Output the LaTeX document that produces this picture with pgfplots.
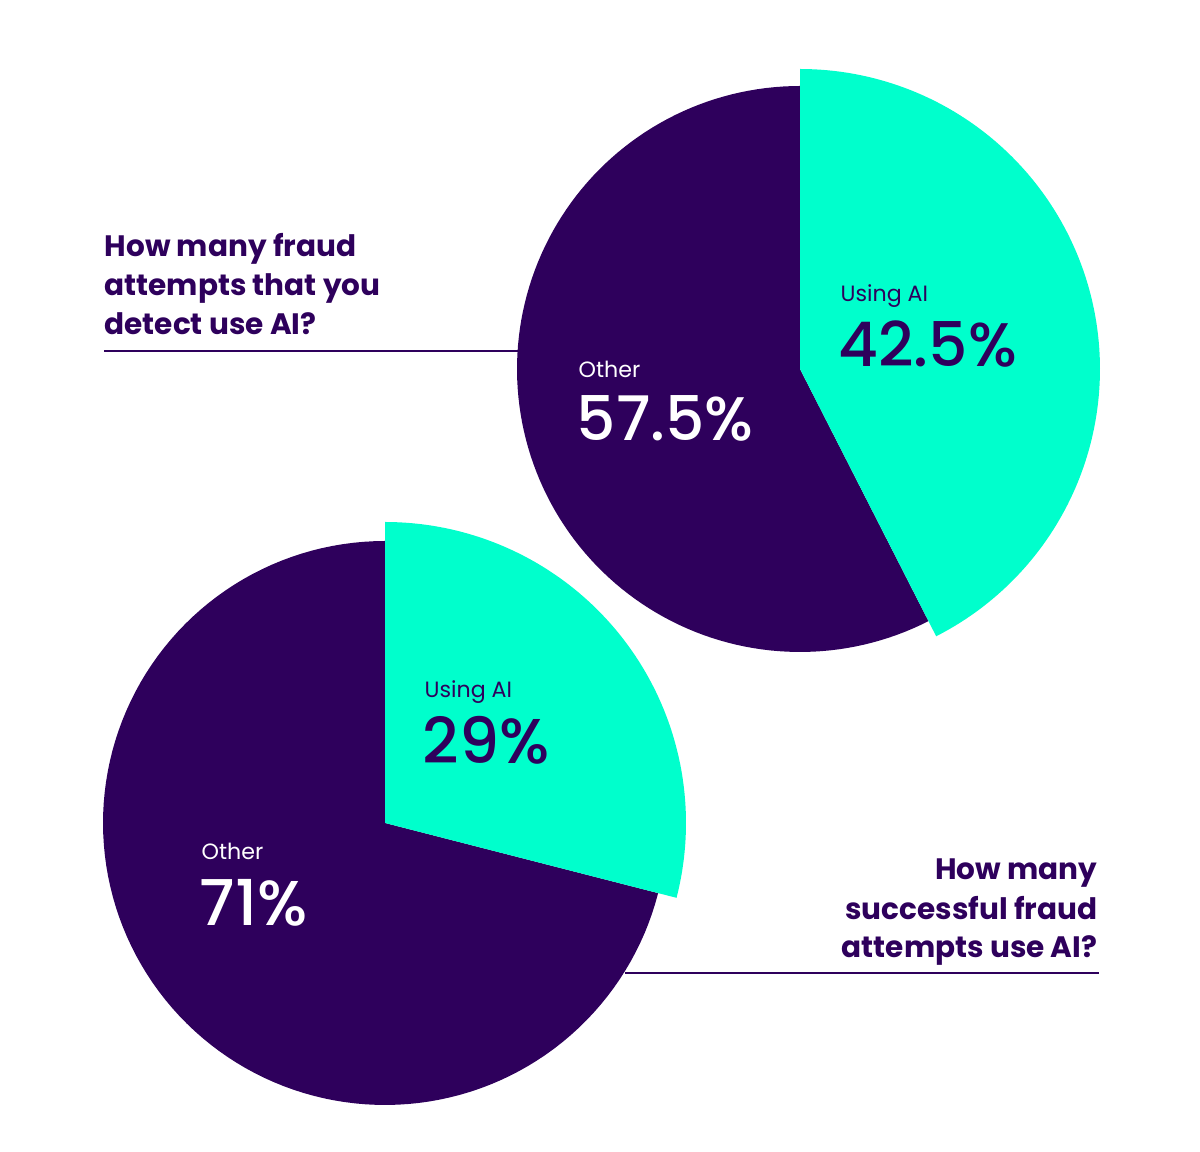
\documentclass[border=0pt]{standalone}
\usepackage{pgfplots}
\pgfplotsset{compat=1.18}
\usepackage{fontspec}
\setmainfont{Poppins}
\newfontfamily\popmed{Poppins}[UprightFont=* Medium]
\newfontfamily\popbold{Poppins}[UprightFont=* Bold]
\definecolor{dpurple}{HTML}{2E005C}
\definecolor{mint}{HTML}{00FFCC}
% data (percent using AI)
\def\topAI{42.5}
\def\botAI{29}
\begin{document}
\begin{tikzpicture}
\begin{axis}[
  width=12cm, height=11.52cm, scale only axis,
  xmin=0, xmax=1200, ymin=0, ymax=1152,
  hide axis, clip=false,
]
\path (axis cs:0,0) rectangle (axis cs:1200,1152);
% top pie (center 800,783)
\addplot[draw=none, fill=dpurple, domain={90}:{90+360*(100-\topAI)/100}, samples=120, variable=\t]
  ({800+283*cos(\t)},{783+283*sin(\t)}) -- (axis cs:800,783) -- cycle;
\addplot[draw=none, fill=mint, domain={90-360*\topAI/100}:{90}, samples=120, variable=\t]
  ({800+300*cos(\t)},{783+300*sin(\t)}) -- (axis cs:800,783) -- cycle;
% bottom pie (center 385,329)
\addplot[draw=none, fill=dpurple, domain={90}:{90+360*(100-\botAI)/100}, samples=120, variable=\t]
  ({385+282*cos(\t)},{329+282*sin(\t)}) -- (axis cs:385,329) -- cycle;
\addplot[draw=none, fill=mint, domain={90-360*\botAI/100}:{90}, samples=120, variable=\t]
  ({385+301*cos(\t)},{329+301*sin(\t)}) -- (axis cs:385,329) -- cycle;
% connector lines
\addplot[dpurple, line width=0.45pt] coordinates {(104,801) (520,801)};
\addplot[dpurple, line width=0.45pt] coordinates {(625,179) (1099,179)};
% headlines
\node[anchor=base west, inner sep=0pt, text=dpurple, font=\fontsize{8.4}{10}\popbold] at (axis cs:104,895) {How many fraud};
\node[anchor=base west, inner sep=0pt, text=dpurple, font=\fontsize{8.4}{10}\popbold] at (axis cs:104,856) {attempts that you};
\node[anchor=base west, inner sep=0pt, text=dpurple, font=\fontsize{8.4}{10}\popbold] at (axis cs:104,817) {detect use AI?};
\node[anchor=base east, inner sep=0pt, text=dpurple, font=\fontsize{8.4}{10}\popbold] at (axis cs:1098,272) {How many};
\node[anchor=base east, inner sep=0pt, text=dpurple, font=\fontsize{8.4}{10}\popbold] at (axis cs:1098,232) {successful fraud};
\node[anchor=base east, inner sep=0pt, text=dpurple, font=\fontsize{8.4}{10}\popbold] at (axis cs:1098,194) {attempts use AI?};
% labels
\node[anchor=base west, inner sep=0pt, text=white, font=\fontsize{6.3}{8}\selectfont] at (axis cs:578,774) {Other};
\node[anchor=base west, inner sep=0pt, text=white, font=\fontsize{17.5}{20}\popmed] at (axis cs:576,711) {57.5\%};
\node[anchor=base west, inner sep=0pt, text=dpurple, font=\fontsize{6.3}{8}\selectfont] at (axis cs:840,850) {Using AI};
\node[anchor=base west, inner sep=0pt, text=dpurple, font=\fontsize{17.5}{20}\popmed] at (axis cs:838,785) {42.5\%};
\node[anchor=base west, inner sep=0pt, text=dpurple, font=\fontsize{6.3}{8}\selectfont] at (axis cs:424,454) {Using AI};
\node[anchor=base west, inner sep=0pt, text=dpurple, font=\fontsize{18}{20}\popmed] at (axis cs:422,388) {29\%};
\node[anchor=base west, inner sep=0pt, text=white, font=\fontsize{6.3}{8}\selectfont] at (axis cs:201,292) {Other};
\node[anchor=base west, inner sep=0pt, text=white, font=\fontsize{18}{20}\popmed] at (axis cs:199,226) {71\%};
\end{axis}
\end{tikzpicture}
\end{document}
